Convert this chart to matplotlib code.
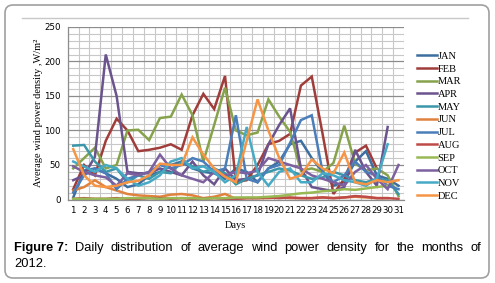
import numpy as np
import matplotlib
matplotlib.use("Agg")
import matplotlib.pyplot as plt
from matplotlib.patches import FancyBboxPatch
from matplotlib.lines import Line2D

# daily average wind power density (W/m2)
months = ["JAN", "FEB", "MAR", "APR", "MAY", "JUN",
          "JUL", "AUG", "SEP", "OCT", "NOV", "DEC"]
colors = ["#3c6e9f", "#a03d3a", "#86a34b", "#6b548e", "#3a96a8", "#e0823e",
          "#4a7ebb", "#be4b48", "#98b954", "#7d60a0", "#46aac5", "#f69545"]

jan = [3, 42, 45, 38, 30, 18, 22, 35, 40, 50, 55, 45, 40, 38, 30, 45, 40, 25,
       45, 55, 80, 85, 60, 40, 20, 25, 55, 70, 35, 30, 20]
feb = [15, 50, 35, 85, 117, 100, 70, 72, 75, 80, 72, 122, 153, 131, 179, 25,
       28, 50, 80, 85, 95, 165, 178, 95, 8, 30, 68, 78, 45]
mar = [45, 60, 75, 45, 50, 100, 101, 86, 118, 120, 152, 122, 55, 108, 162,
       100, 93, 97, 145, 120, 98, 42, 45, 40, 53, 107, 52, 42, 45, 35, 5]
apr = [28, 35, 62, 210, 150, 40, 38, 38, 45, 40, 35, 55, 35, 22, 45, 28, 30,
       35, 80, 108, 132, 45, 18, 15, 12, 18, 72, 40, 20, 105]
may = [78, 79, 55, 40, 45, 25, 35, 30, 40, 38, 55, 48, 40, 45, 38, 22, 30,
       35, 40, 45, 42, 35, 30, 32, 40, 35, 28, 25, 30, 28, 8]
jun = [13, 18, 28, 18, 13, 8, 6, 5, 4, 7, 8, 6, 2, 4, 8, 1, 2, 2, 2, 3, 2, 2,
       2, 3, 2, 3, 4, 3, 2, 2]
jul = [10, 35, 45, 38, 15, 30, 35, 40, 50, 45, 50, 60, 55, 40, 45, 122, 30,
       25, 45, 50, 82, 115, 122, 40, 25, 35, 55, 40, 35, 20, 15]
aug = [1, 2, 1, 1, 2, 1, 1, 2, 2, 1, 2, 1, 1, 2, 1, 1, 2, 2, 3, 2, 3, 2, 2, 3,
       2, 3, 5, 4, 2, 2, 1]
sep = [1, 1, 1, 1, 1, 2, 2, 2, 1, 2, 2, 2, 1, 2, 2, 3, 3, 3, 4, 5, 7, 9, 10,
       12, 13, 15, 14, 16, 18, 20]
oct_ = [48, 40, 35, 32, 20, 38, 35, 40, 65, 45, 35, 30, 25, 40, 35, 40, 38,
        42, 60, 55, 50, 45, 35, 30, 25, 20, 40, 50, 30, 15, 50]
nov = [55, 48, 40, 50, 45, 30, 20, 25, 35, 55, 60, 45, 48, 40, 25, 35, 105,
       40, 20, 40, 45, 25, 25, 38, 35, 28, 25, 20, 30, 80]
dec = [73, 35, 20, 18, 20, 25, 27, 35, 52, 50, 50, 90, 65, 45, 33, 25, 85,
       145, 100, 60, 30, 35, 58, 45, 38, 68, 25, 22, 28, 25, 28]
series = [jan, feb, mar, apr, may, jun, jul, aug, sep, oct_, nov, dec]

fig = plt.figure(figsize=(4.95, 2.83), dpi=100)
ax = fig.add_axes([0.137, 0.295, 0.679, 0.61])

for name, vals, c in zip(months, series, colors):
    days = np.arange(1, len(vals) + 1)
    ax.plot(days, vals, color=c, lw=1.8, label=name, solid_joinstyle="miter")

ax.set_xlim(0.5, 31.5)
ax.set_ylim(0, 250)
ax.set_xticks(np.arange(1, 32))
ax.set_xticklabels([str(d) for d in range(1, 32)])
ax.set_yticks(np.arange(0, 251, 50))
ax.set_yticks(np.arange(0, 251, 10), minor=True)
ax.set_xticks(np.arange(0.5, 31.6, 0.5), minor=True)
ax.grid(which="minor", color="#c8c8c8", lw=0.8)
ax.grid(which="major", axis="y", color="#8c8c8c", lw=0.9)
ax.set_axisbelow(True)
ax.tick_params(which="both", length=0, labelsize=6.2, pad=5)
for s in ["top", "right"]:
    ax.spines[s].set_visible(False)
for s in ["left", "bottom"]:
    ax.spines[s].set_color("#8c8c8c")
    ax.spines[s].set_linewidth(0.9)

ax.set_xlabel("Days", family="Liberation Serif", fontsize=7.5, labelpad=4)
ax.set_ylabel("Average wind power density ,W/m\u00b2", family="Liberation Serif",
              fontsize=7.5, labelpad=1)

handles = [Line2D([], [], color=c, lw=1.8) for c in colors]
fig.legend(handles, months, loc="upper left", bbox_to_anchor=(0.842, 0.818),
           frameon=False, prop={"family": "Liberation Serif", "size": 7.5},
           handlelength=1.95, handletextpad=0.05, labelspacing=0.33,
           borderaxespad=0, borderpad=0)

# outer frame and chart area line
fig.patches.append(FancyBboxPatch((5, 5), 484, 273, boxstyle="round,pad=0,rounding_size=8",
                                  transform=None, fill=False, ec="#a0a0a0", lw=1.2))
fig.lines.append(Line2D([22, 468], [265, 265], transform=None, color="#c8c8c8", lw=1.0))

# caption, first line justified
fig.canvas.draw()
r = fig.canvas.get_renderer()
cap_words = ["Daily", "distribution", "of", "average", "wind", "power", "density",
             "for", "the", "months", "of"]
x0, x1, ybase = 14, 481, 283 - 251
t = fig.text(x0 / 495, ybase / 283, "Figure 7:", fontsize=9.3, weight="bold",
             family="Liberation Sans", va="baseline")
wbold = t.get_window_extent(r).width
texts = [fig.text(0, ybase / 283, w, fontsize=9.3, family="Liberation Sans", va="baseline")
         for w in cap_words]
widths = [tx.get_window_extent(r).width for tx in texts]
gap = (x1 - x0 - wbold - sum(widths)) / len(cap_words)
x = x0 + wbold + gap
for tx, w in zip(texts, widths):
    tx.set_x(x / 495)
    x += w + gap
fig.text(x0 / 495, (283 - 267) / 283, "2012.", fontsize=9.3,
         family="Liberation Sans", va="baseline")

fig.savefig("out.png", dpi=100)
